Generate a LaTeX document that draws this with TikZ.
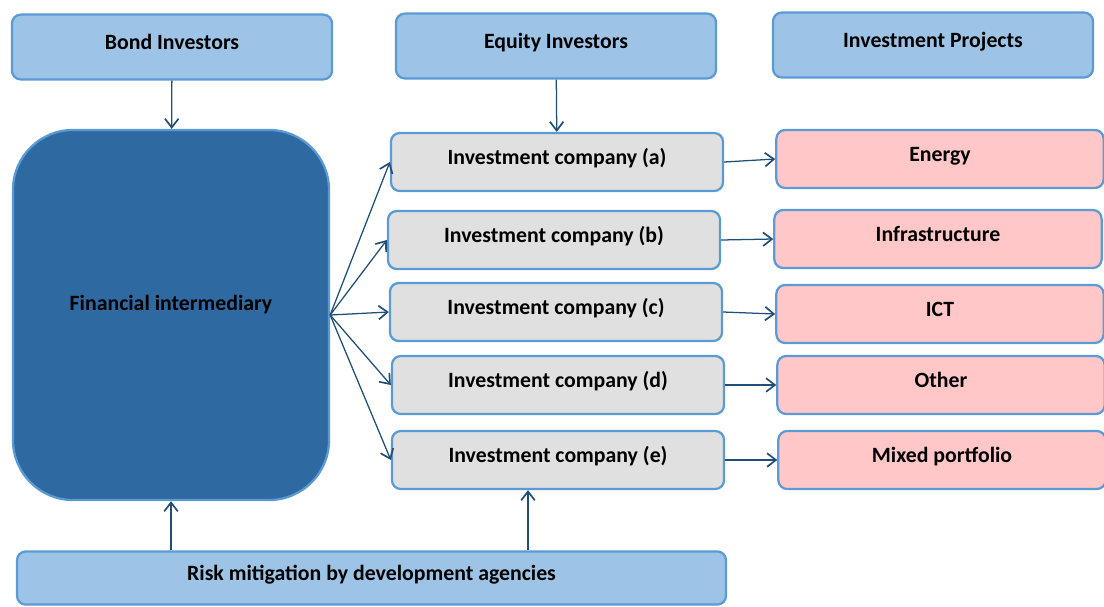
\documentclass[tikz,border=0pt]{standalone}
\usepackage{fontspec}
\setmainfont{Carlito}
\usetikzlibrary{arrows.meta}

\definecolor{boxblue}{RGB}{157,195,230}
\definecolor{edgeblue}{RGB}{91,155,213}
\definecolor{darkblue}{RGB}{46,106,161}
\definecolor{boxgrey}{RGB}{224,224,224}
\definecolor{boxpink}{RGB}{255,199,199}
\definecolor{arrowblue}{RGB}{31,78,121}

\tikzset{
  box/.style={draw=edgeblue, line width=1.6pt, rounded corners=0.22cm,
    minimum height=1.45cm, text height=0.4cm, text depth=0.3cm,
    font=\fontsize{15.5}{18}\selectfont\bfseries},
  investor/.style={box, fill=boxblue, minimum width=8cm, minimum height=1.62cm},
  company/.style={box, fill=boxgrey, minimum width=8.3cm},
  project/.style={box, fill=boxpink, minimum width=8.18cm},
  flow/.style={-{Straight Barb[length=2.2mm,width=3.4mm,line width=1.2pt]},
    draw=arrowblue, line width=0.9pt},
}

\begin{document}
\begin{tikzpicture}[x=0.025cm, y=-0.025cm]
		%%%%% START %%%%%
		\useasboundingbox (0, 0) rectangle (1104, 606);
		
		% top row
		\node[investor] (bond) at (172, 47) {Bond Investors};
		\node[investor] (equity) at (556, 46) {Equity Investors};
		\node[investor] (projects) at (933, 45) {Investment Projects};
		
		\node[box, fill=darkblue, rounded corners=1.5cm, minimum width=7.9cm,
		  minimum height=9.25cm, text depth=0.65cm] (fin) at (171, 315) {Financial intermediary};
		
		% investment companies
		\node[company] (ica) at (557, 162) {Investment company (a)};
		\node[company] (icb) at (554, 240) {Investment company (b)};
		\node[company] (icc) at (556, 312) {Investment company (c)};
		\node[company] (icd) at (558, 385) {Investment company (d)};
		\node[company] (ice) at (558, 460) {Investment company (e)};
		
		% sectors
		\node[project] (energy) at (940, 159) {Energy};
		\node[project] (infra) at (938, 239) {Infrastructure};
		\node[project] (ict) at (940, 314) {ICT};
		\node[project] (other) at (941, 385) {Other};
		\node[project] (mixed) at (942, 460) {Mixed portfolio};
		
		\node[box, fill=boxblue, minimum width=17.72cm, minimum height=1.33cm]
		  (risk) at (371.5, 578) {Risk mitigation by development agencies};
		
		% arrows
		\draw[flow] (bond) -- (fin);
		\draw[flow] (equity) -- (ica);
		\foreach \c in {ica, icb, icc, icd, ice}
		  \draw[flow] (fin.east) -- (\c.west);
		\draw[flow] (ica.east) -- (energy.west);
		\draw[flow] (icb.east) -- (infra.west);
		\draw[flow] (icc.east) -- (ict.west);
		\draw[flow] (icd.east) -- (other.west);
		\draw[flow] (ice.east) -- (mixed.west);
		\draw[flow] (fin.south |- risk.north) -- (fin.south);
		\draw[flow] ([xshift=-0.75cm]ice.south |- risk.north) -- ([xshift=-0.75cm]ice.south);
		
		%%%%% END %%%%%
\end{tikzpicture}
\end{document}
